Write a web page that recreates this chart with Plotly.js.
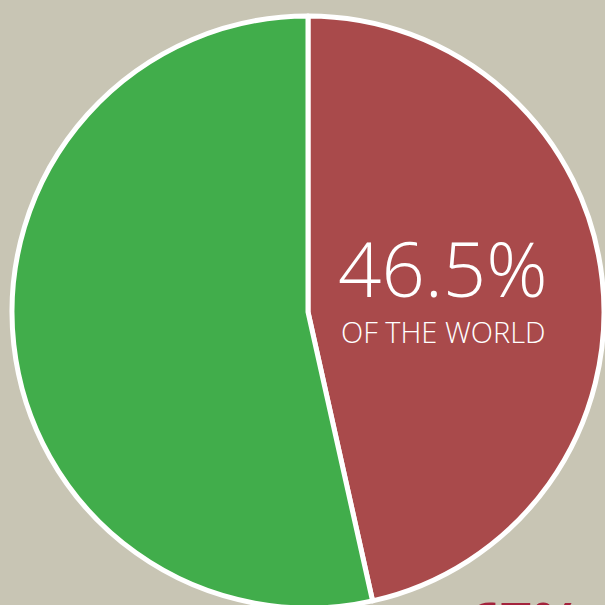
<!DOCTYPE html>
<html><head><meta charset="utf-8">
<script src="https://cdn.plot.ly/plotly-3.0.1.min.js"></script>
<style>
html,body{margin:0;padding:0;width:605px;height:605px;overflow:hidden;background:#c8c5b4;}
#chart{position:absolute;left:0;top:0;width:700px;height:700px;}
</style></head><body>
<div id="chart"></div>
<script>
const labels = ["Share of the world", "Rest of the world"];
const values = [46.5, 53.5];
const colors = ["#a94a4b", "#41ad4b"];
const bigLabel = "46.5%";
const subLabel = "OF THE WORLD";
const cutLabel = "67%";

const W = 700, H = 700;
const px = x => x / W;
const py = y => 1 - y / H;

const data = [{
  type: "pie",
  labels: labels,
  values: values,
  sort: false,
  direction: "clockwise",
  rotation: 0,
  textinfo: "none",
  hoverinfo: "none",
  marker: {colors: colors, line: {color: "#ffffff", width: 5}},
  domain: {x: [px(12), px(604)], y: [py(608), py(16)]},
  showlegend: false
}];

const layout = {
  width: W, height: H,
  margin: {l: 0, r: 0, t: 0, b: 0},
  paper_bgcolor: "#c8c5b4",
  plot_bgcolor: "#c8c5b4",
  showlegend: false,
  annotations: [
    {text: bigLabel, x: px(336), y: py(267), xref: "paper", yref: "paper",
     xanchor: "left", yanchor: "middle", showarrow: false, height: 66,
     font: {family: "Open Sans", size: 76, color: "#ffffff", weight: 300}},
    {text: subLabel, x: px(339), y: py(331), xref: "paper", yref: "paper",
     xanchor: "left", yanchor: "middle", showarrow: false, height: 28,
     font: {family: "Open Sans", size: 29, color: "#ffffff", weight: 300}},
    {text: cutLabel, x: px(466), y: py(581), xref: "paper", yref: "paper",
     xanchor: "left", yanchor: "top", showarrow: false,
     font: {family: "Open Sans", size: 56, color: "#a3233c", weight: 700}}
  ]
};

Plotly.newPlot("chart", data, layout, {staticPlot: true, displayModeBar: false});
</script>
</body></html>
